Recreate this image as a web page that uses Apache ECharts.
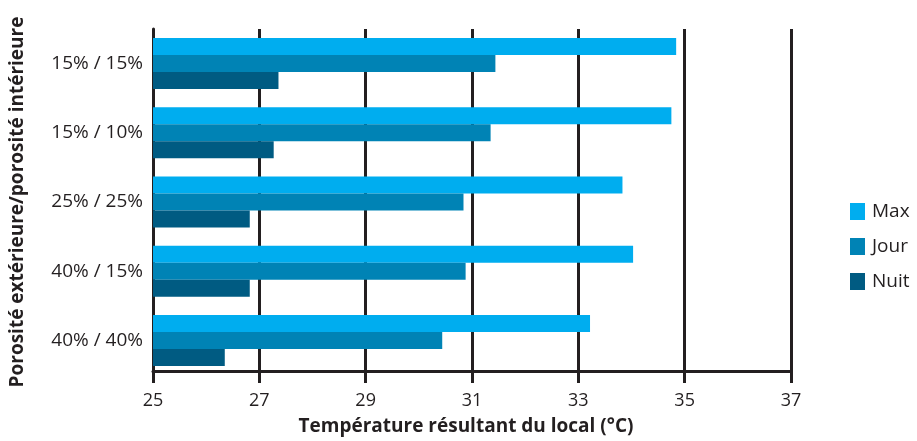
<!DOCTYPE html>
<html>
<head>
<meta charset="utf-8">
<script src="https://cdn.jsdelivr.net/npm/echarts@6/dist/echarts.min.js"></script>
<style>
html,body{margin:0;padding:0;background:#fff;}
#chart{width:917px;height:441px;}
</style>
</head>
<body>
<div id="chart"></div>
<script>
var categories = ['15% / 15%', '15% / 10%', '25% / 25%', '40% / 15%', '40% / 40%'];
var seriesNames = ['Max', 'Jour', 'Nuit'];
var maxValues = [34.84, 34.75, 33.83, 34.03, 33.22];
var jourValues = [31.44, 31.35, 30.84, 30.88, 30.44];
var nuitValues = [27.36, 27.27, 26.82, 26.82, 26.35];
var xTicks = [25, 27, 29, 31, 33, 35, 37];

var textColor = '#231f20';
var font = 'Open Sans';
var colors = ['#00adef', '#0083b5', '#005b82'];
var values = [maxValues, jourValues, nuitValues];

var chart = echarts.init(document.getElementById('chart'));
chart.setOption({
  animation: false,
  backgroundColor: '#ffffff',
  textStyle: { fontFamily: font, color: textColor },
  legend: {
    orient: 'vertical',
    left: 845,
    top: 197,
    itemWidth: 15,
    itemHeight: 17,
    itemGap: 16,
    icon: 'rect',
    textStyle: { fontFamily: font, fontSize: 19, color: textColor, padding: [0, 0, 0, 2] },
    data: seriesNames
  },
  grid: { left: 152, top: 29, width: 639, height: 346, containLabel: false },
  xAxis: {
    type: 'value',
    min: xTicks[0],
    max: xTicks[xTicks.length - 1],
    interval: 2,
    offset: -4,
    name: 'Température résultant du local (°C)',
    nameLocation: 'middle',
    nameGap: 46,
    nameTextStyle: { fontFamily: font, fontSize: 19, fontWeight: 'bold', color: textColor, padding: [0, 12, 0, 0] },
    axisLine: { show: true, lineStyle: { color: textColor, width: 3 } },
    axisTick: { show: true, length: 12, lineStyle: { color: textColor, width: 3 } },
    axisLabel: { margin: 21, fontFamily: font, fontSize: 18, color: textColor },
    splitLine: { show: true, lineStyle: { color: textColor, width: 3 } }
  },
  yAxis: {
    type: 'category',
    inverse: true,
    data: categories,
    name: 'Porosité extérieure/porosité intérieure',
    nameLocation: 'middle',
    nameGap: 126,
    nameRotate: 90,
    nameTextStyle: { fontFamily: font, fontSize: 19, fontWeight: 'bold', color: textColor },
    axisLine: { show: true, lineStyle: { color: textColor, width: 3 } },
    axisTick: { show: false },
    axisLabel: { margin: 10, fontFamily: font, fontSize: 19, color: textColor },
    splitLine: { show: false }
  },
  series: seriesNames.map(function (n, i) {
    return {
      name: n,
      type: 'bar',
      data: values[i],
      barWidth: 17,
      barGap: '0%',
      itemStyle: { color: colors[i] },
      z: 1
    };
  })
});
</script>
</body>
</html>
